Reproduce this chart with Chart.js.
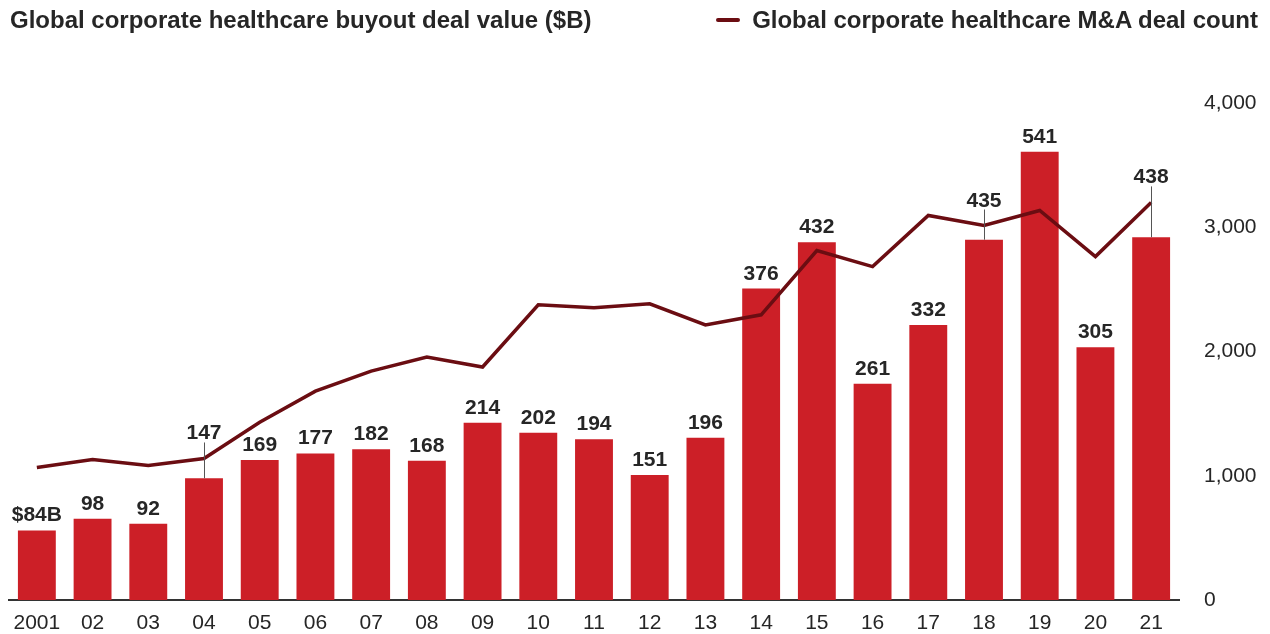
<!DOCTYPE html>
<html>
<head>
<meta charset="utf-8">
<script src="https://cdn.jsdelivr.net/npm/chart.js@4.4.1/dist/chart.umd.min.js"></script>
<style>
  html, body { margin: 0; padding: 0; background: #fff; }
  #wrap { position: relative; width: 1270px; height: 634px; }
  .hdr { position: absolute; top: 5px; font-family: "Liberation Sans", Arial, sans-serif; font-weight: bold; font-size: 24px; color: #262626; line-height: 30px; white-space: nowrap; }
  #title { left: 10px; }
  #legend { right: 12px; display: flex; align-items: center; }
  #legend span.swatch { display: inline-block; width: 24px; height: 4px; background: #6b0d12; margin-right: 12px; border-radius: 2px; }
  canvas { position: absolute; left: 0; top: 0; }
</style>
</head>
<body>
<div id="wrap">
  <canvas id="myChart" width="1270" height="634"></canvas>
  <div class="hdr" id="title">Global corporate healthcare buyout deal value ($B)</div>
  <div class="hdr" id="legend"><span class="swatch"></span>Global corporate healthcare M&amp;A deal count</div>
</div>
<script>
const years = ['2001', '02', '03', '04', '05', '06', '07', '08', '09', '10', '11', '12', '13', '14', '15', '16', '17', '18', '19', '20', '21'];
const buyoutValue = [84, 98, 92, 147, 169, 177, 182, 168, 214, 202, 194, 151, 196, 376, 432, 261, 332, 435, 541, 305, 438];
const dealCount = [1067, 1131, 1083, 1139, 1430, 1681, 1842, 1956, 1875, 2376, 2352, 2384, 2214, 2295, 2812, 2683, 3095, 3014, 3135, 2764, 3200];
const countTicks = [0, 1000, 2000, 3000, 4000];
// labels that sit above the line with a leader line down to the bar
const calloutYears = ['04', '18', '21'];

const textColor = '#262626';
const fontFam = '"Liberation Sans", Arial, sans-serif';

const barLabels = {
    id: 'barLabels',
    afterDatasetsDraw(chart) {
        const ctx = chart.ctx;
        const bars = chart.getDatasetMeta(0).data;
        const pts = chart.getDatasetMeta(1).data;
        ctx.save();
        ctx.font = 'bold 21px ' + fontFam;
        ctx.fillStyle = textColor;
        ctx.textAlign = 'center';
        ctx.textBaseline = 'alphabetic';
        bars.forEach((bar, i) => {
            let txt = String(buyoutValue[i]);
            if (i === 0) txt = '$' + txt + 'B';
            if (calloutYears.includes(years[i])) {
                const base = pts[i].y - 19;
                ctx.strokeStyle = '#555';
                ctx.lineWidth = 1;
                ctx.beginPath();
                ctx.moveTo(Math.round(bar.x) + 0.5, bar.y);
                ctx.lineTo(Math.round(bar.x) + 0.5, base + 3);
                ctx.stroke();
                ctx.fillText(txt, bar.x, base);
            } else {
                ctx.fillText(txt, bar.x, bar.y - 9);
            }
        });
        ctx.restore();
    }
};

window.onload = () => {
    const ctx = document.getElementById('myChart').getContext('2d');
    const myChart = new Chart(ctx, {
        type: 'bar',
        data: {
            labels: years,
            datasets: [{
                type: 'bar',
                label: 'Global corporate healthcare buyout deal value ($B)',
                data: buyoutValue,
                backgroundColor: '#cc1f27',
                yAxisID: 'y',
                categoryPercentage: 1,
                barPercentage: 0.68,
                order: 2
            }, {
                type: 'line',
                label: 'Global corporate healthcare M&A deal count',
                data: dealCount,
                borderColor: '#6b0d12',
                borderWidth: 3.5,
                pointRadius: 0,
                tension: 0,
                yAxisID: 'y1',
                order: 1
            }]
        },
        options: {
            responsive: false,
            animation: false,
            layout: { padding: { left: 9, top: 103, right: 0, bottom: 0 } },
            plugins: {
                legend: { display: false },
                tooltip: { enabled: false }
            },
            scales: {
                x: {
                    grid: { display: false, drawTicks: false },
                    border: { display: true, color: '#333', width: 2 },
                    afterFit: (s) => { s.height = 34; },
                    ticks: { color: textColor, font: { family: fontFam, size: 21 }, padding: 11, maxRotation: 0, autoSkip: false }
                },
                y: {
                    display: false,
                    min: 0,
                    max: 600
                },
                y1: {
                    position: 'right',
                    min: 0,
                    max: 4000,
                    grid: { display: false, drawTicks: false },
                    border: { display: false },
                    afterBuildTicks: (s) => { s.ticks = countTicks.map(v => ({ value: v })); },
                    afterFit: (s) => { s.width = 91; s.paddingTop = 0; s.paddingBottom = 0; },
                    ticks: {
                        color: textColor,
                        font: { family: fontFam, size: 21 },
                        padding: 25,
                        callback: (v) => v.toLocaleString('en-US')
                    }
                }
            }
        },
        plugins: [barLabels]
    });
};
</script>
</body>
</html>
